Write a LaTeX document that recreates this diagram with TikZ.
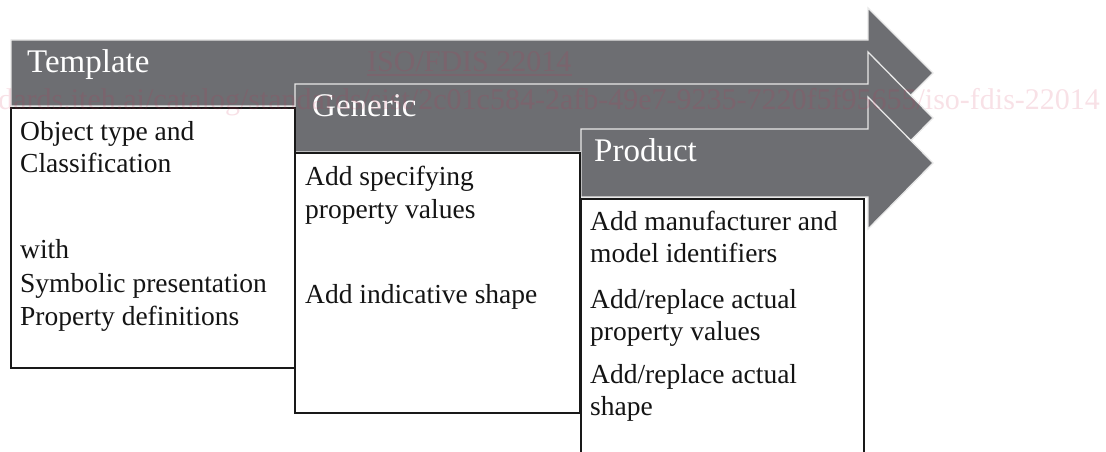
\documentclass[tikz,border=0pt]{standalone}
\usepackage{fontspec}
\setmainfont{Liberation Serif}
\definecolor{arrowgray}{RGB}{109,110,114}
\definecolor{edgewhite}{RGB}{232,232,232}
\definecolor{wmred}{RGB}{205,40,80}
\begin{document}
\begin{tikzpicture}[x=1pt,y=-1pt,
  band/.style={fill=arrowgray, draw=edgewhite, line width=1.3pt, line join=miter},
  panel/.style={fill=white, draw=black!90, line width=1.6pt},
  headtext/.style={text=white, font=\fontsize{33}{33}\selectfont, anchor=base west, inner sep=0pt},
  bodytext/.style={text=black!92, font=\fontsize{27.5}{33}\selectfont, anchor=base west, inner sep=0pt},
  wmtext/.style={text=wmred, opacity=0.14, font=\fontsize{30}{30}\selectfont, inner sep=0pt},
  wmline/.style={draw=wmred, opacity=0.14, line width=1.2pt}
]
\useasboundingbox (0,0) rectangle (1106,452);
\clip (0,0) rectangle (1106,452);

% stage arrows, back to front
\draw[band] (11,40) -- (868,40) -- (868,8) -- (933,73) -- (868,138) -- (868,106) -- (11,106) -- cycle;
\draw[band] (295,84) -- (868,84) -- (868,52) -- (933,118) -- (868,184) -- (868,152) -- (295,152) -- cycle;
\draw[band] (581,129) -- (868,129) -- (868,97) -- (933,163) -- (868,229) -- (868,197) -- (581,197) -- cycle;

\node[headtext] (tplhead) at (27,73) {Template};
\node[headtext] (genhead) at (312,117) {Generic};
\node[headtext] (prohead) at (594,161) {Product};

% content panels
\draw[panel] (11,108) rectangle (295,368);
\draw[panel] (295,153) rectangle (580,413);
\draw[panel] (581,199) rectangle (864,470);

% Template panel
\node[bodytext] (t1) at (20,140) {Object type and};
\node[bodytext] (t2) at (20,172) {Classification};
\node[bodytext] (t3) at (20,258) {with};
\node[bodytext] (t4) at (20,292) {Symbolic presentation};
\node[bodytext] (t5) at (20,325) {Property definitions};

% Generic panel
\node[bodytext] (g1) at (305,185) {Add specifying};
\node[bodytext] (g2) at (305,218) {property values};
\node[bodytext] (g3) at (305,303) {Add indicative shape};

% Product panel
\node[bodytext] (p1) at (590,230) {Add manufacturer and};
\node[bodytext] (p2) at (590,262) {model identifiers};
\node[bodytext] (p3) at (590,308) {Add/replace actual};
\node[bodytext] (p4) at (590,340) {property values};
\node[bodytext] (p5) at (590,383) {Add/replace actual};
\node[bodytext] (p6) at (590,415) {shape};

% document stamp
\node[wmtext, anchor=base west] (wmA) at (367,72) {ISO/FDIS 22014};
\draw[wmline] ([yshift=-3pt]wmA.base west) -- ([yshift=-3pt]wmA.base east);
\node[wmtext, anchor=base east] (wmB) at (1100,109) {https://standards.iteh.ai/catalog/standards/sist/2c01c584-2afb-49e7-9235-7220f5f95655/iso-fdis-22014};
\end{tikzpicture}
\end{document}
